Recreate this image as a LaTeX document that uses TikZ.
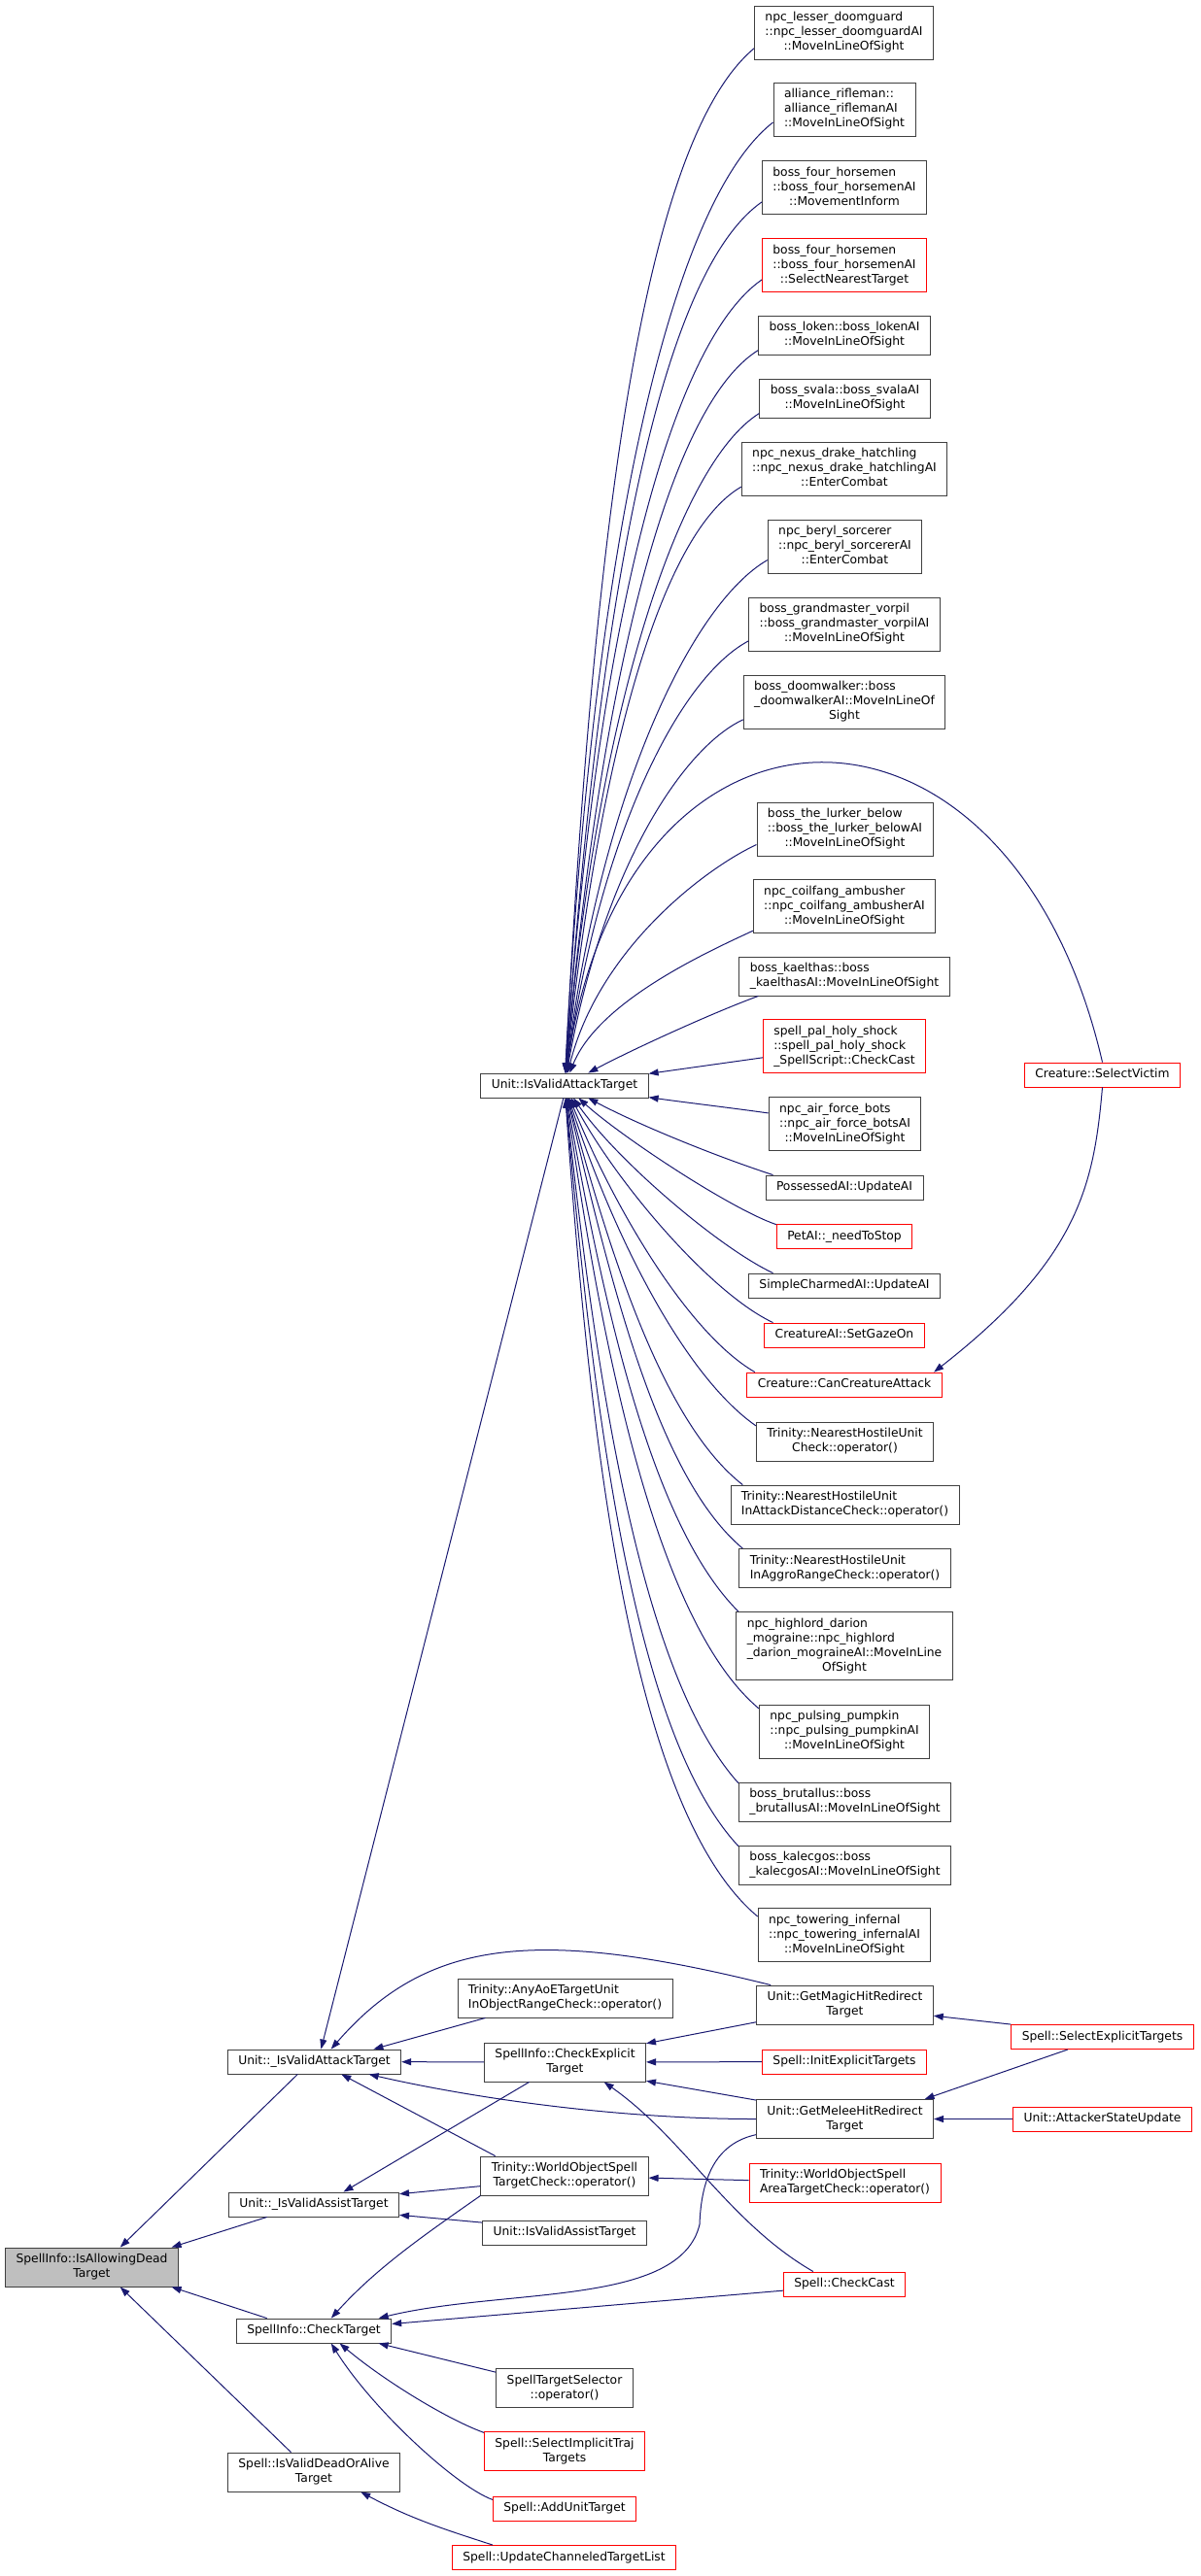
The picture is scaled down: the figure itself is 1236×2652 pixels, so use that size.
\documentclass[tikz,border=0pt]{standalone}
\usepackage{fontspec}
\setmainfont{DejaVu Sans}
\usepackage{tikz}
\usetikzlibrary{arrows.meta, calc}

\definecolor{edgeblue}{HTML}{191970}
\definecolor{boxline}{HTML}{404040}
\definecolor{rootfill}{HTML}{BFBFBF}

% label: lines left aligned, last line centred
\newcommand{\dlab}[2]{\begin{tabular}{@{}l@{}}#1\\\multicolumn{1}{@{}c@{}}{#2}\end{tabular}}

\tikzset{
    fn/.style={draw=boxline, line width=0.9pt, inner xsep=11pt, inner ysep=5pt,
        font=\fontsize{12.3}{15}\selectfont},
    fnred/.style={fn, draw=red},
    fnroot/.style={fn, fill=rootfill},
    calledge/.style={draw=edgeblue, line width=1pt, <-},
    >={Triangle[length=10pt,width=7pt]}
}

\begin{document}
\begin{tikzpicture}[x=1pt,y=1pt]
\useasboundingbox (0,0) rectangle (1236,-2652);

% Root
\node[fnroot] (root) at (94.5,-2334) {\dlab{SpellInfo::IsAllowingDead}{Target}};

% Direct callers
\node[fn] (vattack) at (323.5,-2122.5) {\strut Unit::\_IsValidAttackTarget};
\node[fn] (vassist) at (323,-2269.5) {\strut Unit::\_IsValidAssistTarget};
\node[fn] (checktgt) at (323,-2399.5) {\strut SpellInfo::CheckTarget};
\node[fn] (deadalive) at (323,-2545) {\dlab{Spell::IsValidDeadOrAlive}{Target}};

% Third column
\node[fn] (isvalidatt) at (581,-1117.5) {\strut Unit::IsValidAttackTarget};
\node[fn] (aoecheck) at (581.5,-2057) {\dlab{Trinity::AnyAoETargetUnit}{InObjectRangeCheck::operator()}};
\node[fn] (checkexpl) at (581.5,-2123) {\dlab{SpellInfo::CheckExplicit}{Target}};
\node[fn] (objcheck) at (581,-2240) {\dlab{Trinity::WorldObjectSpell}{TargetCheck::operator()}};
\node[fn] (isvalidasst) at (581,-2298.5) {\strut Unit::IsValidAssistTarget};
\node[fn] (tgtselector) at (581,-2458.5) {\dlab{SpellTargetSelector}{::operator()}};
\node[fnred] (trajtargets) at (581,-2523.5) {\dlab{Spell::SelectImplicitTraj}{Targets}};
\node[fnred] (addunit) at (581,-2582.5) {\strut Spell::AddUnitTarget};
\node[fnred] (channeled) at (580.5,-2633) {\strut Spell::UpdateChanneledTargetList};

% Callers of Unit::IsValidAttackTarget
\node[fn] (lesser) at (868.5,-33.5) {\dlab{npc\_lesser\_doomguard\\::npc\_lesser\_doomguardAI}{::MoveInLineOfSight}};
\node[fn] (rifleman) at (869,-113) {\dlab{alliance\_rifleman::\\alliance\_riflemanAI}{::MoveInLineOfSight}};
\node[fn] (fhinform) at (869,-193) {\dlab{boss\_four\_horsemen\\::boss\_four\_horsemenAI}{::MovementInform}};
\node[fnred] (fhnearest) at (869,-273) {\dlab{boss\_four\_horsemen\\::boss\_four\_horsemenAI}{::SelectNearestTarget}};
\node[fn] (loken) at (869,-345) {\dlab{boss\_loken::boss\_lokenAI}{::MoveInLineOfSight}};
\node[fn] (svala) at (869.5,-410) {\dlab{boss\_svala::boss\_svalaAI}{::MoveInLineOfSight}};
\node[fn] (nexus) at (869,-482.5) {\dlab{npc\_nexus\_drake\_hatchling\\::npc\_nexus\_drake\_hatchlingAI}{::EnterCombat}};
\node[fn] (beryl) at (869.5,-562.5) {\dlab{npc\_beryl\_sorcerer\\::npc\_beryl\_sorcererAI}{::EnterCombat}};
\node[fn] (vorpil) at (869,-642.5) {\dlab{boss\_grandmaster\_vorpil\\::boss\_grandmaster\_vorpilAI}{::MoveInLineOfSight}};
\node[fn] (doomwalker) at (869,-722.5) {\dlab{boss\_doomwalker::boss\\\_doomwalkerAI::MoveInLineOf}{Sight}};
\node[fn] (lurker) at (869.5,-853.5) {\dlab{boss\_the\_lurker\_below\\::boss\_the\_lurker\_belowAI}{::MoveInLineOfSight}};
\node[fn] (coilfang) at (869,-933) {\dlab{npc\_coilfang\_ambusher\\::npc\_coilfang\_ambusherAI}{::MoveInLineOfSight}};
\node[fn] (kaelthas) at (869,-1005) {\dlab{boss\_kaelthas::boss}{\_kaelthasAI::MoveInLineOfSight}};
\node[fnred] (holyshock) at (869,-1077) {\dlab{spell\_pal\_holy\_shock\\::spell\_pal\_holy\_shock}{\_SpellScript::CheckCast}};
\node[fn] (airforce) at (869.5,-1157) {\dlab{npc\_air\_force\_bots\\::npc\_air\_force\_botsAI}{::MoveInLineOfSight}};
\node[fn] (possessed) at (869,-1222.5) {\strut PossessedAI::UpdateAI};
\node[fnred] (petai) at (869,-1273) {\strut PetAI::\_needToStop};
\node[fn] (charmed) at (869,-1323.5) {\strut SimpleCharmedAI::UpdateAI};
\node[fnred] (gaze) at (869,-1374.5) {\strut CreatureAI::SetGazeOn};
\node[fnred] (canattack) at (869,-1425.5) {\strut Creature::CanCreatureAttack};
\node[fn] (nhucheck) at (869.5,-1484) {\dlab{Trinity::NearestHostileUnit}{Check::operator()}};
\node[fn] (nhudist) at (869.5,-1549) {\dlab{Trinity::NearestHostileUnit}{InAttackDistanceCheck::operator()}};
\node[fn] (nhuaggro) at (869.5,-1614.5) {\dlab{Trinity::NearestHostileUnit}{InAggroRangeCheck::operator()}};
\node[fn] (darion) at (869,-1694.5) {\dlab{npc\_highlord\_darion\\\_mograine::npc\_highlord\\\_darion\_mograineAI::MoveInLine}{OfSight}};
\node[fn] (pumpkin) at (869,-1782.5) {\dlab{npc\_pulsing\_pumpkin\\::npc\_pulsing\_pumpkinAI}{::MoveInLineOfSight}};
\node[fn] (brutallus) at (869.5,-1855) {\dlab{boss\_brutallus::boss}{\_brutallusAI::MoveInLineOfSight}};
\node[fn] (kalecgos) at (869.5,-1920) {\dlab{boss\_kalecgos::boss}{\_kalecgosAI::MoveInLineOfSight}};
\node[fn] (infernal) at (869,-1992) {\dlab{npc\_towering\_infernal\\::npc\_towering\_infernalAI}{::MoveInLineOfSight}};

% Lower block of the fourth column
\node[fn] (magichit) at (869.5,-2064) {\dlab{Unit::GetMagicHitRedirect}{Target}};
\node[fnred] (initexpl) at (869,-2122.5) {\strut Spell::InitExplicitTargets};
\node[fn] (meleehit) at (869.5,-2181.5) {\dlab{Unit::GetMeleeHitRedirect}{Target}};
\node[fnred] (areacheck) at (869.5,-2247) {\dlab{Trinity::WorldObjectSpell}{AreaTargetCheck::operator()}};
\node[fnred] (checkcast) at (869,-2351.5) {\strut Spell::CheckCast};

% Far right
\node[fnred] (selvictim) at (1134.5,-1106.5) {\strut Creature::SelectVictim};
\node[fnred] (selexpl) at (1134.5,-2097) {\strut Spell::SelectExplicitTargets};
\node[fnred] (attstate) at (1134.5,-2181.5) {\strut Unit::AttackerStateUpdate};

% Fan into Unit::IsValidAttackTarget (upper half)
\draw[calledge] (isvalidatt.87) .. controls ($(isvalidatt.87)+(87:560)$) and ($(lesser.190)+(220:150)$) .. (lesser.190);
\draw[calledge] (isvalidatt.87) .. controls ($(isvalidatt.87)+(87:520)$) and ($(rifleman.190)+(218:140)$) .. (rifleman.190);
\draw[calledge] (isvalidatt.86) .. controls ($(isvalidatt.86)+(86:480)$) and ($(fhinform.190)+(215:130)$) .. (fhinform.190);
\draw[calledge] (isvalidatt.86) .. controls ($(isvalidatt.86)+(86:440)$) and ($(fhnearest.190)+(215:120)$) .. (fhnearest.190);
\draw[calledge] (isvalidatt.85) .. controls ($(isvalidatt.85)+(85:400)$) and ($(loken.190)+(212:110)$) .. (loken.190);
\draw[calledge] (isvalidatt.85) .. controls ($(isvalidatt.85)+(85:370)$) and ($(svala.190)+(212:100)$) .. (svala.190);
\draw[calledge] (isvalidatt.84) .. controls ($(isvalidatt.84)+(84:330)$) and ($(nexus.190)+(210:95)$) .. (nexus.190);
\draw[calledge] (isvalidatt.83) .. controls ($(isvalidatt.83)+(83:290)$) and ($(beryl.190)+(210:90)$) .. (beryl.190);
\draw[calledge] (isvalidatt.82) .. controls ($(isvalidatt.82)+(82:250)$) and ($(vorpil.190)+(208:80)$) .. (vorpil.190);
\draw[calledge] (isvalidatt.80) .. controls ($(isvalidatt.80)+(80:210)$) and ($(doomwalker.190)+(205:70)$) .. (doomwalker.190);
\draw[calledge] (isvalidatt.82) .. controls ($(isvalidatt.82)+(82:425)$) and ($(selvictim.north)+(103:425)$) .. (selvictim.north);
\draw[calledge] (isvalidatt.76) .. controls ($(isvalidatt.76)+(76:130)$) and ($(lurker.190)+(205:60)$) .. (lurker.190);
\draw[calledge] (isvalidatt.68) .. controls ($(isvalidatt.68)+(68:80)$) and ($(coilfang.195)+(205:50)$) .. (coilfang.195);
\draw[calledge] (isvalidatt.28) .. controls ($(isvalidatt.28)+(28:50)$) and ($(kaelthas.193)+(200:50)$) .. (kaelthas.193);
\draw[calledge] (isvalidatt.8) .. controls ($(isvalidatt.8)+(8:40)$) and ($(holyshock.188)+(188:40)$) .. (holyshock.188);

% Fan into Unit::IsValidAttackTarget (lower half)
\draw[calledge] (isvalidatt.-8) .. controls ($(isvalidatt.-8)+(-8:40)$) and ($(airforce.172)+(172:40)$) .. (airforce.172);
\draw[calledge] (isvalidatt.-28) .. controls ($(isvalidatt.-28)+(-28:60)$) and ($(possessed.170)+(162:60)$) .. (possessed.170);
\draw[calledge] (isvalidatt.-42) .. controls ($(isvalidatt.-42)+(-42:60)$) and ($(petai.170)+(161:50)$) .. (petai.170);
\draw[calledge] (isvalidatt.-55) .. controls ($(isvalidatt.-55)+(-55:80)$) and ($(charmed.170)+(155:60)$) .. (charmed.170);
\draw[calledge] (isvalidatt.-62) .. controls ($(isvalidatt.-62)+(-62:100)$) and ($(gaze.170)+(155:70)$) .. (gaze.170);
\draw[calledge] (isvalidatt.-68) .. controls ($(isvalidatt.-68)+(-68:120)$) and ($(canattack.172)+(150:80)$) .. (canattack.172);
\draw[calledge] (isvalidatt.-72) .. controls ($(isvalidatt.-72)+(-72:150)$) and ($(nhucheck.170)+(145:90)$) .. (nhucheck.170);
\draw[calledge] (isvalidatt.-75) .. controls ($(isvalidatt.-75)+(-75:180)$) and ($(nhudist.169)+(142:100)$) .. (nhudist.169);
\draw[calledge] (isvalidatt.-77) .. controls ($(isvalidatt.-77)+(-77:210)$) and ($(nhuaggro.169)+(140:110)$) .. (nhuaggro.169);
\draw[calledge] (isvalidatt.-80) .. controls ($(isvalidatt.-80)+(-80:240)$) and ($(darion.162)+(135:120)$) .. (darion.162);
\draw[calledge] (isvalidatt.-82) .. controls ($(isvalidatt.-82)+(-82:290)$) and ($(pumpkin.165)+(140:130)$) .. (pumpkin.165);
\draw[calledge] (isvalidatt.-84) .. controls ($(isvalidatt.-84)+(-84:330)$) and ($(brutallus.170)+(132:140)$) .. (brutallus.170);
\draw[calledge] (isvalidatt.-85) .. controls ($(isvalidatt.-85)+(-85:360)$) and ($(kalecgos.170)+(133:150)$) .. (kalecgos.170);
\draw[calledge] (isvalidatt.-86) .. controls ($(isvalidatt.-86)+(-86:400)$) and ($(infernal.168)+(140:160)$) .. (infernal.168);

% Creature::SelectVictim -> CanCreatureAttack
\draw[calledge] (canattack.8) .. controls ($(canattack.8)+(38:190)$) and ($(selvictim.south)+(265:100)$) .. (selvictim.south);

% Into the root
\draw[calledge] (root.35) -- (vattack.217);
\draw[calledge] (root.14) -- (vassist.195);
\draw[calledge] (root.-14) -- (checktgt.165);
\draw[calledge] (root.-35) -- (deadalive.139);

% Into Unit::_IsValidAttackTarget
\draw[calledge] (vattack.62) -- (isvalidatt.265);
\draw[calledge] (vattack.37) .. controls ($(vattack.37)+(49:150)$) and ($(magichit.165)+(166:250)$) .. (magichit.165);
\draw[calledge] (vattack.12) -- (aoecheck.194);
\draw[calledge] (vattack) -- (checkexpl);
\draw[calledge] (vattack.-13) .. controls ($(vattack.-13)+(-13:100)$) and ($(meleehit.west)+(180:150)$) .. (meleehit.west);
\draw[calledge] (vattack.335) -- (objcheck.164);

% Into Unit::_IsValidAssistTarget
\draw[calledge] (vassist.7) -- (objcheck.187);
\draw[calledge] (vassist.-7) -- (isvalidasst.173);
\draw[calledge] (vassist.23) -- (checkexpl.209);

% Into SpellInfo::CheckTarget
\draw[calledge] (checktgt.36) .. controls ($(checktgt.36)+(48:70)$) and ($(objcheck.south west)+(215:70)$) .. (objcheck.south west);
\draw[calledge] (checktgt.11) .. controls (520,-2355) and (700,-2375) .. (720,-2290)
    .. controls (722,-2230) and (745,-2205) .. (meleehit.190);
\draw[calledge] (checktgt.5) -- (checkcast.186);
\draw[calledge] (checktgt.-11) -- (tgtselector.167);
\draw[calledge] (checktgt.334) .. controls ($(checktgt.334)+(-40:60)$) and ($(trajtargets.167)+(160:40)$) .. (trajtargets.167);
\draw[calledge] (checktgt.324) .. controls ($(checktgt.324)+(-58:80)$) and ($(addunit.173)+(160:40)$) .. (addunit.173);

% Into SpellInfo::CheckExplicitTarget
\draw[calledge] (checkexpl.13) -- (magichit.191);
\draw[calledge] (checkexpl) -- (initexpl);
\draw[calledge] (checkexpl.-13) -- (meleehit.168);
\draw[calledge] (checkexpl.333) .. controls ($(checkexpl.333)+(-35:100)$) and ($(checkcast.158)+(150:100)$) .. (checkcast.158);

% Remaining calls
\draw[calledge] (objcheck) -- (areacheck);
\draw[calledge] (deadalive.337) .. controls ($(deadalive.337)+(-28:60)$) and ($(channeled.170)+(162:50)$) .. (channeled.170);
\draw[calledge] (magichit.-7) -- (selexpl.north west);
\draw[calledge] (meleehit.14) -- (selexpl.200);
\draw[calledge] (meleehit) -- (attstate);

\end{tikzpicture}
\end{document}
